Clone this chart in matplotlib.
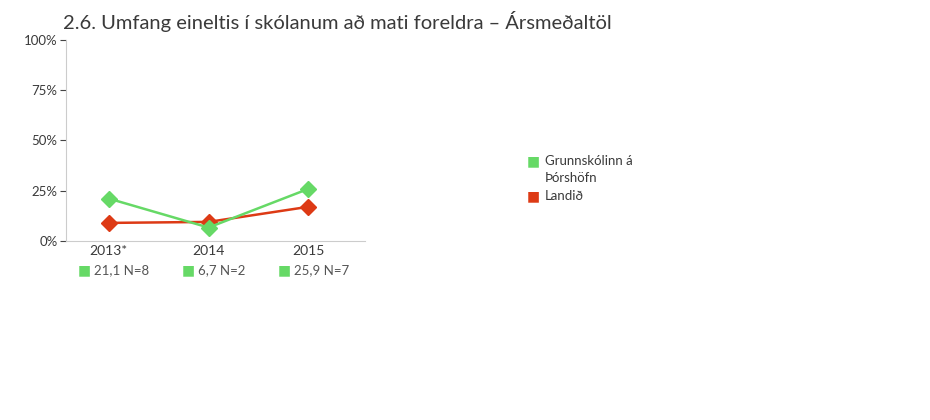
import matplotlib
matplotlib.use("Agg")
import matplotlib.pyplot as plt

categories = ["2013*", "2014", "2015"]
school = [21.1, 6.7, 25.9]
national = [9.0, 9.5, 17.0]
n_labels = ["21,1 N=8", "6,7 N=2", "25,9 N=7"]
yticks = [0, 25, 50, 75, 100]
ytick_labels = ["0%", "25%", "50%", "75%", "100%"]
series_names = ["Grunnskólinn á\nÞórshöfn", "Landið"]

green = "#66d966"
red = "#dd3a15"
txt = "#3a3a3a"

plt.rcParams['font.family'] = ['Lato', 'DejaVu Sans']

fig = plt.figure(figsize=(9.3, 4.2), dpi=100)
ax = fig.add_axes([66/930, 1-241/420, (365-66)/930, 201/420])
x = list(range(len(categories)))
ax.plot(x, school, color=green, marker="D", markersize=8, linewidth=1.8, zorder=3)
ax.plot(x, national, color=red, marker="D", markersize=8, linewidth=1.8, zorder=2)
ax.set_xlim(-0.43, 2.57)
ax.set_ylim(0, 100)
ax.set_yticks(yticks)
ax.set_yticklabels(ytick_labels, fontsize=9.5, color=txt)
ax.set_xticks(x)
ax.set_xticklabels(categories, fontsize=10, color=txt)
ax.tick_params(axis="x", length=0, pad=3)
ax.tick_params(axis="y", length=4, width=0.8, color="#444444", pad=2)
for s in ["top", "right"]:
    ax.spines[s].set_visible(False)
ax.spines["left"].set_color("#cccccc")
ax.spines["bottom"].set_color("#cccccc")

fig.canvas.draw()
renderer = fig.canvas.get_renderer()
for xi, lab in zip(x, n_labels):
    xd = ax.transData.transform((xi, 0))[0] + 6
    t = fig.text(0, 1 - 270/420, lab, color="#555555", fontsize=9.5, va="center", ha="left")
    w = t.get_window_extent(renderer).width
    total = 14 + w
    left = xd - total / 2
    t.set_x((left + 14) / 930)
    fig.text((left + 4.5) / 930, 1 - 270/420, "■", color=green, fontsize=10, va="center",
             ha="center", family=["DejaVu Sans"])

fig.text(63/930, 1 - 22/420, "2.6. Umfang eineltis í skólanum að mati foreldra – Ársmeðaltöl",
         fontsize=14.5, color=txt, va="center", ha="left")

fig.text(533/930, 1 - 161/420, "■", color=green, fontsize=10, va="center", ha="center", family=["DejaVu Sans"])
fig.text(545/930, 1 - 161/420, "Grunnskólinn á", color=txt, fontsize=9.5, va="center", ha="left")
fig.text(545/930, 1 - 178/420, "Þórshöfn", color=txt, fontsize=9.5, va="center", ha="left")
fig.text(533/930, 1 - 196/420, "■", color=red, fontsize=10, va="center", ha="center", family=["DejaVu Sans"])
fig.text(545/930, 1 - 196/420, series_names[1], color=txt, fontsize=9.5, va="center", ha="left")

fig.savefig("out.png", dpi=100)
